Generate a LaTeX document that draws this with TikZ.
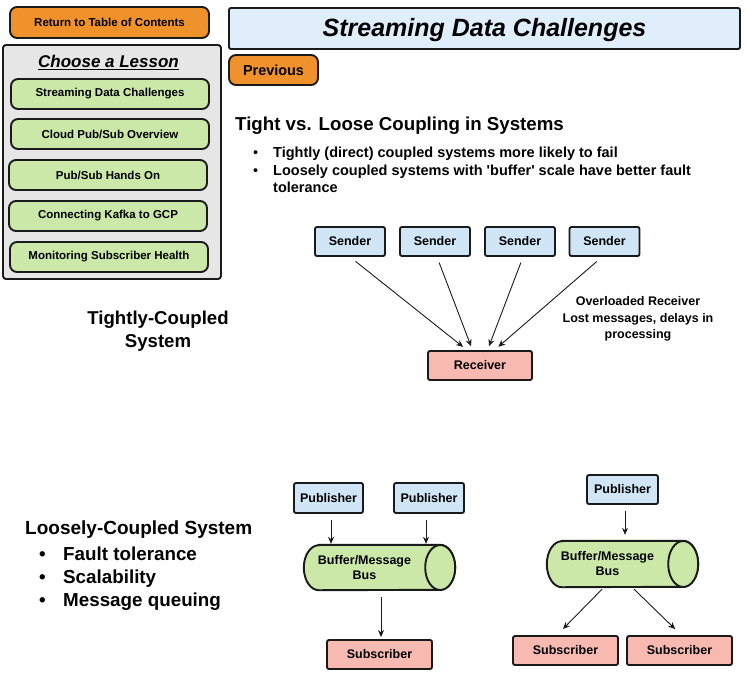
\documentclass[tikz,border=0pt]{standalone}
\usepackage{fontspec}
\setmainfont{Liberation Sans}
\usetikzlibrary{arrows.meta}
\definecolor{orangeb}{HTML}{F0922B}
\definecolor{greenb}{HTML}{CBE8A8}
\definecolor{blueb}{HTML}{D0E6F6}
\definecolor{pinkb}{HTML}{F8B9B0}
\definecolor{grayp}{HTML}{E6E6E6}
\definecolor{titleb}{HTML}{DFEEFA}
\definecolor{edge}{HTML}{1A1A1A}
\newcommand\fsz[2]{\fontsize{#1}{#2}\selectfont}
\begin{document}
\begin{tikzpicture}[x=1pt,y=-1pt,
  box/.style={draw=edge,line width=1.9pt,inner sep=0pt,align=center,rounded corners=2pt,font=\bfseries\fsz{12.5}{15}},
  btn/.style={box,rounded corners=7pt,font=\bfseries\fsz{11.5}{13}},
  lesson/.style={btn,fill=greenb,minimum width=198pt,minimum height=30pt},
  sender/.style={box,fill=blueb,minimum width=70pt,minimum height=29pt},
  pinkbox/.style={box,fill=pinkb,minimum width=105pt,minimum height=29pt},
  busnode/.style={inner sep=0pt,align=center,minimum width=121pt,font=\bfseries\fsz{12.5}{15}},
  cyl/.style={draw=edge,line width=1.9pt,fill=greenb},
  txt/.style={inner sep=0pt,font=\bfseries\fsz{#1}{#1}},
  arr/.style={draw=edge,line width=0.9pt,-{Stealth[length=7pt,width=6pt]}}
]
\useasboundingbox (0,0) rectangle (746,694);

% ---- left menu ----
\node[btn,fill=orangeb,minimum width=199pt,minimum height=31pt] (toc) at (109.5,22.5) {Return to Table of Contents};
\node[box,fill=grayp,rounded corners=3pt,minimum width=218pt,minimum height=234pt] (panel) at (112,162) {};
\node[txt=17,anchor=base,font=\bfseries\itshape\fsz{17}{17}] (choose) at (108.5,67.3) {\underline{Choose a Lesson}};
\node[lesson] (l1) at (110,94) {Streaming Data Challenges};
\node[lesson] (l2) at (110,134) {Cloud Pub/Sub Overview};
\node[lesson] (l3) at (108,175) {Pub/Sub Hands On};
\node[lesson] (l4) at (108,216) {Connecting Kafka to GCP};
\node[lesson] (l5) at (109,257) {Monitoring Subscriber Health};

% ---- title ----
\node[box,fill=titleb,minimum width=511pt,minimum height=41pt,text depth=3pt,font=\bfseries\itshape\fsz{25}{25}] (title) at (484.5,28.5) {Streaming Data Challenges};
\node[btn,fill=orangeb,minimum width=89pt,minimum height=30pt,font=\bfseries\fsz{14.4}{16}] (prev) at (273.5,70) {Previous};

\node[txt=18.7,anchor=base west] (head) at (235,130.5) {Tight vs. Loose Coupling in Systems};
\node[txt=14.5,anchor=base west] (b1) at (253,157.3) {\makebox[20pt][l]{\mdseries•}Tightly (direct) coupled systems more likely to fail};
\node[txt=14.5,anchor=base west] (b2) at (253,175) {\makebox[20pt][l]{\mdseries•}Loosely coupled systems with \textquotesingle buffer\textquotesingle\ scale have better fault};
\node[txt=14.5,anchor=base west] (b2b) at (273,192) {tolerance};

% ---- tightly coupled ----
\node[sender] (s1) at (350,241.5) {Sender};
\node[sender] (s2) at (435,241.5) {Sender};
\node[sender] (s3) at (520,241.5) {Sender};
\node[sender] (s4) at (604.5,241.5) {Sender};
\node[pinkbox,minimum width=104pt] (rec) at (480,365.5) {Receiver};
\draw[arr,shorten <=7pt,shorten >=5pt] (s1.south) -- ([xshift=-13pt]rec.north);
\draw[arr,shorten <=6pt,shorten >=4pt] ([xshift=2pt]s2.south) -- ([xshift=-7.5pt]rec.north);
\draw[arr,shorten <=6pt,shorten >=4pt] ([xshift=3pt]s3.south) -- ([xshift=7.5pt]rec.north);
\draw[arr,shorten <=7pt,shorten >=5pt] ([xshift=-2.5pt]s4.south) -- ([xshift=14.5pt]rec.north);
\node[txt=12.5,align=center,font=\bfseries\fsz{12.5}{16.5}] (over) at (638,319) {Overloaded Receiver\\Lost messages, delays in\\processing};

\node[txt=18.6,align=center,anchor=base,font=\bfseries\fsz{18.6}{23}] (tight) at (158,347.7) {Tightly-Coupled\\System};

% ---- loosely coupled ----
\node[txt=19,anchor=base west] (loose) at (25,534.3) {Loosely-Coupled System};
\node[txt=18.8,anchor=base west] (f1) at (39,560.7) {\makebox[24pt][l]{•}Fault tolerance};
\node[txt=18.8,anchor=base west] (f2) at (39,583.5) {\makebox[24pt][l]{•}Scalability};
\node[txt=18.8,anchor=base west] (f3) at (39,606) {\makebox[24pt][l]{•}Message queuing};

% left bus
\node[sender,minimum width=69pt,minimum height=30pt] (pl1) at (328.5,498) {Publisher};
\node[sender,minimum height=30pt] (pl2) at (429,498) {Publisher};
\node[busnode,minimum height=45pt] (bus1) at (364.5,567.5) {};
\draw[cyl] ([xshift=15pt]bus1.north west) -- ([xshift=15pt]bus1.north east)
  arc[start angle=90,end angle=-90,x radius=15pt,y radius=22.5pt]
  -- ([xshift=15pt]bus1.south west)
  arc[start angle=270,end angle=90,x radius=15pt,y radius=22.5pt] -- cycle;
\draw[cyl] ([xshift=15pt]bus1.east) ellipse[x radius=15pt,y radius=22.5pt];
\node[busnode] at (bus1) {Buffer/Message\\Bus};
\node[pinkbox] (subl) at (379.5,654.5) {Subscriber};
\draw[arr,shorten <=6pt,shorten >=1pt] ([xshift=2.5pt]pl1.south) -- ([xshift=2.5pt]pl1.south |- bus1.north);
\draw[arr,shorten <=6pt,shorten >=1pt] ([xshift=-3pt]pl2.south) -- ([xshift=-3pt]pl2.south |- bus1.north);
\draw[arr,shorten <=7pt,shorten >=2pt] ([xshift=1.5pt]subl.north |- bus1.south) -- ([xshift=1.5pt]subl.north);

% right bus
\node[sender,minimum width=71pt] (pr) at (622.5,489.5) {Publisher};
\node[busnode,minimum height=46pt] (bus2) at (607.5,564) {};
\draw[cyl] ([xshift=15pt]bus2.north west) -- ([xshift=15pt]bus2.north east)
  arc[start angle=90,end angle=-90,x radius=15pt,y radius=23pt]
  -- ([xshift=15pt]bus2.south west)
  arc[start angle=270,end angle=90,x radius=15pt,y radius=23pt] -- cycle;
\draw[cyl] ([xshift=15pt]bus2.east) ellipse[x radius=15pt,y radius=23pt];
\node[busnode] at (bus2) {Buffer/Message\\Bus};
\node[pinkbox] (subr1) at (565.5,650.5) {Subscriber};
\node[pinkbox] (subr2) at (679.5,650.5) {Subscriber};
\draw[arr,shorten <=6pt,shorten >=6pt] ([xshift=2.5pt]pr.south) -- ([xshift=2.5pt]pr.south |- bus2.north);
\draw[arr,shorten <=2.8pt,shorten >=8.5pt] ([xshift=-3.5pt]bus2.south) -- ([xshift=-8.5pt]subr1.north);
\draw[arr,shorten <=2.8pt,shorten >=8.5pt] ([xshift=24.5pt]bus2.south) -- ([xshift=1.8pt]subr2.north);
\end{tikzpicture}
\end{document}
